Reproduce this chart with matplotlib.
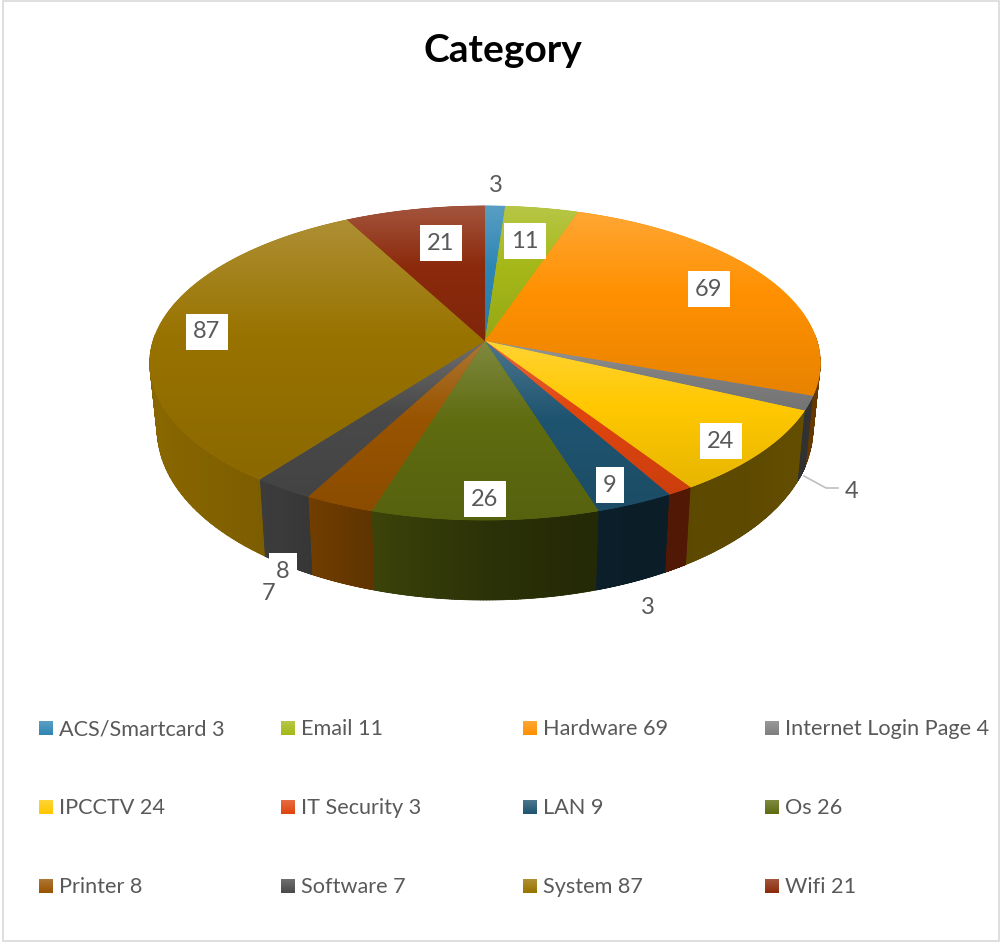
import numpy as np
import matplotlib
matplotlib.use("Agg")
import matplotlib.pyplot as plt
from matplotlib.colors import to_rgb
from matplotlib.patches import PathPatch, Polygon, Rectangle
from matplotlib.path import Path

plt.rcParams["font.family"] = ["Lato", "DejaVu Sans"]

categories = ["ACS/Smartcard", "Email", "Hardware", "Internet Login Page", "IPCCTV", "IT Security",
              "LAN", "Os", "Printer", "Software", "System", "Wifi"]
values = [3, 11, 69, 4, 24, 3, 9, 26, 8, 7, 87, 21]
colors = ["#2f86b4", "#a5b818", "#ff9000", "#7f7f7f", "#ffc800", "#e0450f",
          "#1f5470", "#5f6c10", "#995400", "#4a4a4a", "#997300", "#8c2a0c"]

# label centres in figure pixels, one per slice
label_xy = [(496, 186), (525, 241), (709, 289), (852, 491), (721, 441), (648, 607),
            (610, 485), (485, 499), (283, 571), (269, 593), (207, 332), (441, 243)]
boxed = [False, True, True, False, True, False, True, True, True, False, True, True]

W, H = 1002, 942
TEXT = "#595959"

# pie geometry: apex position and perspective of the tilted disc
CX, CY = 485, 341
R_X, R_Y, PERSP = 332, 154, 0.14
DEPTH_0, DEPTH_V, SHRINK = 64, 16, 0.978


def top_xy(theta):
    u, v = np.sin(theta), -np.cos(theta)
    w = 1 - PERSP * v
    return CX + R_X * u / w, CY + R_Y * v / w


def bottom_xy(theta):
    x, y = top_xy(theta)
    v = -np.cos(theta)
    return CX + (x - CX) * SHRINK, y + DEPTH_0 + DEPTH_V * v


def shade(color, t):
    """Lighter towards t=0, plain at t=0.45, darker towards t=1."""
    c = np.array(to_rgb(color))
    if t < 0.45:
        k = (0.45 - t) / 0.45 * 0.2
        return c + (1 - c) * k
    k = (t - 0.45) / 0.55 * 0.09
    return c * (1 - k)


def band_path(th):
    """Outer wall of a slice as a compound path of equally wound quads."""
    tx, ty = top_xy(th)
    bx, by = bottom_xy(th)
    verts, codes = [], []
    for j in range(len(th) - 1):
        q = np.array([(tx[j], ty[j]), (tx[j + 1], ty[j + 1]), (bx[j + 1], by[j + 1]), (bx[j], by[j])])
        area = np.sum(q[:, 0] * np.roll(q[:, 1], -1) - np.roll(q[:, 0], -1) * q[:, 1])
        if area < 0:
            q = q[::-1]
        verts += list(q) + [q[0]]
        codes += [Path.MOVETO, Path.LINETO, Path.LINETO, Path.LINETO, Path.CLOSEPOLY]
    return Path(np.array(verts), codes)


def clipped_image(ax, patch, image, zorder):
    ax.add_patch(patch)
    bb = patch.get_path().get_extents()
    im = ax.imshow(image, extent=(bb.x0, bb.x1, bb.y1, bb.y0), aspect="auto",
                   interpolation="bilinear", zorder=zorder)
    im.set_clip_path(patch)


fig = plt.figure(figsize=(W / 100, H / 100), dpi=100)
ax = fig.add_axes([0, 0, 1, 1])

edges = np.cumsum([0] + values) / sum(values) * 2 * np.pi

# sides first, the lit top faces go over them
side_x = [150, 280, 340, 420, 500, 630, 750, 820]
side_k = [0.90, 0.80, 0.68, 0.55, 0.45, 0.36, 0.37, 0.40]
for i, col in enumerate(colors):
    th = np.linspace(edges[i], edges[i + 1], 80)
    th = th[np.cos(th) < 0.05]  # the far half of the wall is hidden
    if len(th) < 2:
        continue
    path = band_path(th)
    bb = path.get_extents()
    cols = np.linspace(bb.x0, bb.x1, 40)
    k = np.interp(cols, side_x, side_k)
    img = (np.array(to_rgb(col))[None, :] * k[:, None])[None, :, :]
    # antialiased underlay, image clipping leaves a hard edge on its own
    ax.add_patch(PathPatch(path, facecolor=img[0, 20], edgecolor=img[0, 20], lw=0.5, zorder=2))
    clipped_image(ax, PathPatch(path, facecolor="none", edgecolor="none"), img, 3)

for i, col in enumerate(colors):
    th = np.linspace(edges[i], edges[i + 1], 120)
    tx, ty = top_xy(th)
    pts = np.column_stack([np.r_[CX, tx], np.r_[CY, ty]])
    img = np.array([[shade(col, t)] for t in np.linspace(0, 1, 64)])
    ax.add_patch(Polygon(pts, closed=True, facecolor=img[30, 0], edgecolor=img[30, 0], lw=0.4, zorder=3.5))
    clipped_image(ax, PathPatch(Path(pts), facecolor="none", edgecolor="none"), img, 4)

# leader for the Internet Login Page label
ax.plot([804, 826, 838], [476, 488, 488], color="#bfbfbf", lw=1.2, zorder=5)

for i, v in enumerate(values):
    x, y = label_xy[i]
    if boxed[i]:
        ax.text(x, y, str(v), ha="center", va="center", fontsize=17, color=TEXT, zorder=6,
                bbox=dict(boxstyle="square,pad=0.3", facecolor="white", edgecolor="none"))
    else:
        ax.text(x, y, str(v), ha="center", va="center", fontsize=17, color=TEXT, zorder=6)

ax.text(503, 51, "Category", ha="center", va="center", fontsize=28, fontweight="bold", color="black")

# legend in four columns
col_x = [39, 281, 523, 765]
row_y = [728, 807, 886]
for i, (name, v, col) in enumerate(zip(categories, values, colors)):
    x, y = col_x[i % 4], row_y[i // 4]
    img = np.array([[shade(col, t * 0.45)] for t in np.linspace(0, 1, 14)])
    ax.imshow(img, extent=(x, x + 14, y + 7, y - 7), aspect="auto", zorder=4)
    ax.text(x + 20, y + 1, f"{name} {v}", ha="left", va="center", fontsize=15.6, color=TEXT)

ax.add_patch(Rectangle((3.5, 0.5), W - 6, H - 2, facecolor="none", edgecolor="#d9d9d9", lw=1.2))

ax.set_xlim(0, W)
ax.set_ylim(H, 0)
ax.axis("off")
fig.savefig("out.png", dpi=100, facecolor="white")
plt.close(fig)
